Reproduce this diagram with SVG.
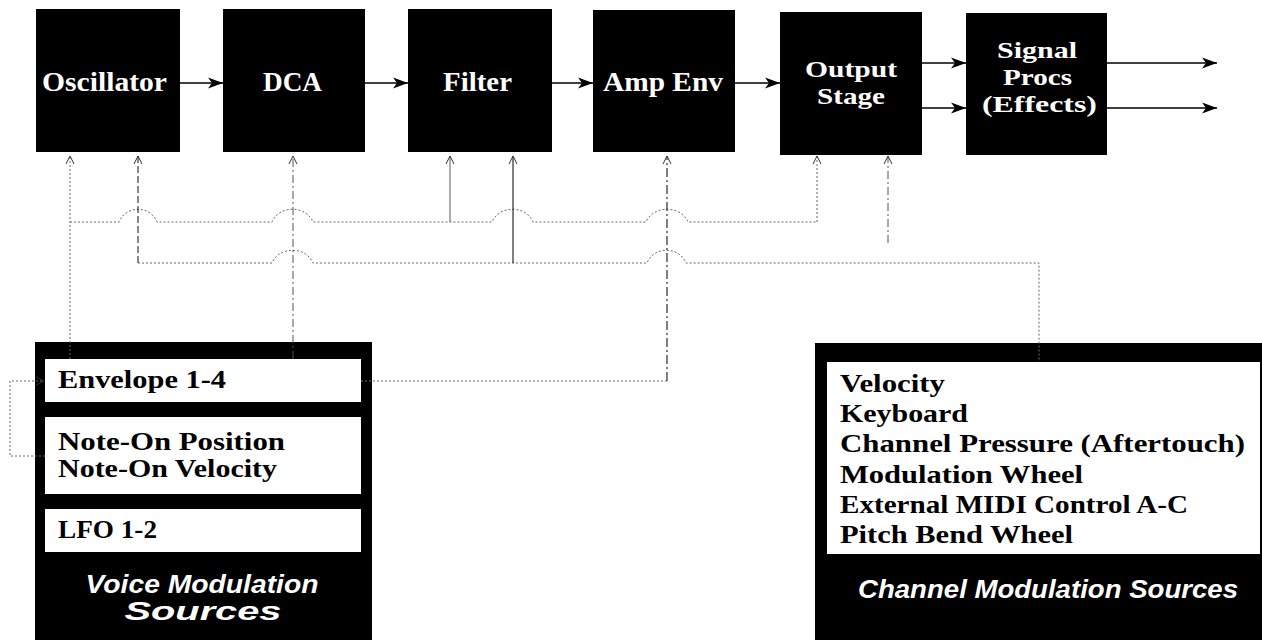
<svg xmlns="http://www.w3.org/2000/svg" width="1262" height="640" viewBox="0 0 1262 640">
<defs>
<marker id="fa" markerUnits="userSpaceOnUse" markerWidth="16" markerHeight="12" refX="15" refY="6" orient="auto">
<path d="M0,0.5 L15,6 L0,11.5 L4,6 Z" fill="#000"/>
</marker>
<marker id="oa" markerUnits="userSpaceOnUse" markerWidth="12" markerHeight="12" refX="9" refY="5" orient="auto">
<path d="M1,1 L9,5 L1,9" fill="none" stroke="#333" stroke-width="1"/>
</marker>
</defs>
<style>
.blk{fill:#000}
.wb{fill:#fff}
.tt{font-family:"Liberation Serif",serif;font-weight:bold;font-size:27px;fill:#fff}
.tt2{font-family:"Liberation Serif",serif;font-weight:bold;font-size:24px;fill:#fff}
.st{font-family:"Liberation Serif",serif;font-weight:bold;font-size:25px;fill:#000}
.cap{font-family:"Liberation Sans",Arial,sans-serif;font-weight:bold;font-style:italic;font-size:25px;fill:#fff}
.flow{stroke:#000;stroke-width:1.6;fill:none}
.m1{stroke:#666;stroke-width:1;fill:none;stroke-dasharray:2 2}
.m2{stroke:#111;stroke-width:1;fill:none;stroke-dasharray:7 3}
.m3{stroke:#555;stroke-width:1;fill:none;stroke-dasharray:8 3 2 3}
.m4{stroke:#777;stroke-width:1.2;fill:none}
.m5{stroke:#000;stroke-width:1;fill:none}
.m6{stroke:#000;stroke-width:1;fill:none;stroke-dasharray:9 3 2 3}
</style>

<g id="oscillator">
<rect class="blk" x="36" y="9" width="144" height="143"/>
<text class="tt" x="42" y="91" textLength="125" lengthAdjust="spacingAndGlyphs">Oscillator</text>
</g>
<g id="dca">
<rect class="blk" x="223" y="9" width="142" height="143"/>
<text class="tt" x="263" y="91" textLength="59" lengthAdjust="spacingAndGlyphs">DCA</text>
</g>
<g id="filter">
<rect class="blk" x="408" y="9" width="144" height="143"/>
<text class="tt" x="443" y="91" textLength="69" lengthAdjust="spacingAndGlyphs">Filter</text>
</g>
<g id="ampenv">
<rect class="blk" x="593" y="10" width="142" height="142"/>
<text class="tt" x="603" y="91" textLength="120" lengthAdjust="spacingAndGlyphs">Amp Env</text>
</g>
<g id="outputstage">
<rect class="blk" x="780" y="12" width="142" height="143"/>
<text class="tt2" x="805" y="77" textLength="92" lengthAdjust="spacingAndGlyphs">Output</text>
<text class="tt2" x="817" y="104" textLength="68" lengthAdjust="spacingAndGlyphs">Stage</text>
</g>
<g id="signalprocs">
<rect class="blk" x="966" y="13" width="141" height="142"/>
<text class="tt2" x="997" y="58" textLength="80" lengthAdjust="spacingAndGlyphs">Signal</text>
<text class="tt2" x="1003" y="85" textLength="69" lengthAdjust="spacingAndGlyphs">Procs</text>
<text class="tt2" x="982" y="112" textLength="115" lengthAdjust="spacingAndGlyphs">(Effects)</text>
</g>

<g id="voice-modulation-sources">
<rect class="blk" x="35" y="342" width="337" height="298"/>
<rect class="wb" x="45" y="359" width="316" height="43"/>
<rect class="wb" x="45" y="417" width="316" height="77"/>
<rect class="wb" x="45" y="509" width="316" height="43"/>
<text class="st" x="58" y="388" textLength="168" lengthAdjust="spacingAndGlyphs">Envelope 1-4</text>
<text class="st" x="58" y="450" textLength="227" lengthAdjust="spacingAndGlyphs">Note-On Position</text>
<text class="st" x="58" y="477" textLength="219" lengthAdjust="spacingAndGlyphs">Note-On Velocity</text>
<text class="st" x="58" y="538" textLength="99" lengthAdjust="spacingAndGlyphs">LFO 1-2</text>
<text class="cap" x="202" y="593" text-anchor="middle" textLength="233" lengthAdjust="spacingAndGlyphs">Voice Modulation</text>
<text class="cap" x="203" y="620" text-anchor="middle" textLength="157" lengthAdjust="spacingAndGlyphs">Sources</text>
</g>

<g id="channel-modulation-sources">
<rect class="blk" x="815" y="343" width="447" height="297"/>
<rect class="wb" x="827" y="362" width="433" height="192"/>
<text class="st" x="840" y="392" textLength="105" lengthAdjust="spacingAndGlyphs">Velocity</text>
<text class="st" x="840" y="422" textLength="128" lengthAdjust="spacingAndGlyphs">Keyboard</text>
<text class="st" x="840" y="452" textLength="405" lengthAdjust="spacingAndGlyphs">Channel Pressure (Aftertouch)</text>
<text class="st" x="840" y="483" textLength="243" lengthAdjust="spacingAndGlyphs">Modulation Wheel</text>
<text class="st" x="840" y="513" textLength="348" lengthAdjust="spacingAndGlyphs">External MIDI Control A-C</text>
<text class="st" x="840" y="543" textLength="233" lengthAdjust="spacingAndGlyphs">Pitch Bend Wheel</text>
<text class="cap" x="858" y="598" textLength="380" lengthAdjust="spacingAndGlyphs">Channel Modulation Sources</text>
</g>

<g id="connectors">
<!-- signal flow -->
<line class="flow" x1="180" y1="83" x2="223" y2="83" marker-end="url(#fa)"/>
<line class="flow" x1="365" y1="83" x2="408" y2="83" marker-end="url(#fa)"/>
<line class="flow" x1="552" y1="83" x2="593" y2="83" marker-end="url(#fa)"/>
<line class="flow" x1="735" y1="83" x2="780" y2="83" marker-end="url(#fa)"/>
<line class="flow" x1="922" y1="63" x2="966" y2="63" marker-end="url(#fa)"/>
<line class="flow" x1="922" y1="108" x2="966" y2="108" marker-end="url(#fa)"/>
<line class="flow" x1="1107" y1="63" x2="1217" y2="63" marker-end="url(#fa)"/>
<line class="flow" x1="1107" y1="108" x2="1217" y2="108" marker-end="url(#fa)"/>

<!-- modulation routing -->
<line class="m1" x1="70" y1="359" x2="70" y2="156" marker-end="url(#oa)"/>
<path class="m1" d="M70,222 H119 C126,205 150,205 157,222 H272 C279,205 306,205 313,222 H492 C499,205 526,205 533,222 H646 C653,205 681,205 688,222 H817"/>
<line class="m1" x1="817" y1="222" x2="817" y2="156" marker-end="url(#oa)"/>
<line class="m4" x1="450" y1="222" x2="450" y2="156" marker-end="url(#oa)"/>

<line class="m2" x1="138" y1="263" x2="138" y2="156" marker-end="url(#oa)"/>
<path class="m1" d="M138,263 H272 C279,246 306,246 313,263 H647 C654,246 679,246 686,263 H1039 V362"/>
<line class="m5" x1="513" y1="263" x2="513" y2="156" marker-end="url(#oa)"/>

<line class="m3" x1="293" y1="359" x2="293" y2="156" marker-end="url(#oa)"/>
<line class="m3" x1="888" y1="243" x2="888" y2="156" marker-end="url(#oa)"/>

<path class="m1" d="M361,381 H667"/>
<line class="m6" x1="667" y1="381" x2="667" y2="156" marker-end="url(#oa)"/>

<path class="m1" d="M45,456 H10 V381 H44" marker-end="url(#oa)"/>
</g>
</svg>
